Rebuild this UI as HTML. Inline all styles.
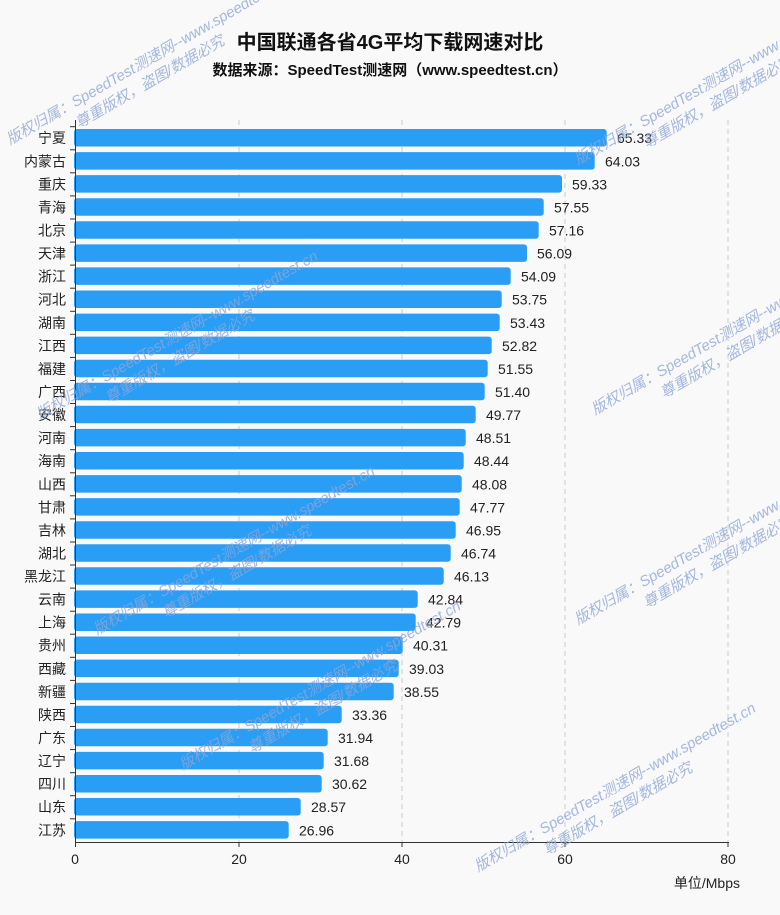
<!DOCTYPE html>
<html><head><meta charset="utf-8"><style>
body{margin:0;background:#f9f9f9;}
svg{display:block;font-family:"Liberation Sans","Noto Sans CJK SC",sans-serif;}
</style></head><body>
<svg width="780" height="915" viewBox="0 0 780 915" xmlns="http://www.w3.org/2000/svg">
<rect width="780" height="915" fill="#f9f9f9"/>
<text x="390" y="49" text-anchor="middle" font-size="20" font-weight="bold" fill="#111">中国联通各省4G平均下载网速对比</text>
<text x="390" y="75" text-anchor="middle" font-size="15" font-weight="bold" fill="#111">数据来源：SpeedTest测速网（www.speedtest.cn）</text>
<g stroke="#ccc" stroke-dasharray="5,4" stroke-width="1">
<line x1="239" y1="120" x2="239" y2="842"/><line x1="402" y1="120" x2="402" y2="842"/><line x1="565" y1="120" x2="565" y2="842"/><line x1="728" y1="120" x2="728" y2="842"/>
</g>
<g font-size="14" fill="#222">
<g transform="translate(0,126.7)"><rect x="74" y="2.3" width="532.7" height="17.5" rx="3" fill="#2a9df5"/><text x="617" y="16.5">65.33</text><text x="66" y="16.5" text-anchor="end">宁夏</text><line x1="70" x2="75" y1="0" y2="0" stroke="#333"/></g>
<g transform="translate(0,149.8)"><rect x="74" y="2.3" width="520.7" height="17.5" rx="3" fill="#2a9df5"/><text x="605" y="16.5">64.03</text><text x="66" y="16.5" text-anchor="end">内蒙古</text><line x1="70" x2="75" y1="0" y2="0" stroke="#333"/></g>
<g transform="translate(0,172.8)"><rect x="74" y="2.3" width="488" height="17.5" rx="3" fill="#2a9df5"/><text x="572" y="16.5">59.33</text><text x="66" y="16.5" text-anchor="end">重庆</text><line x1="70" x2="75" y1="0" y2="0" stroke="#333"/></g>
<g transform="translate(0,195.9)"><rect x="74" y="2.3" width="469.7" height="17.5" rx="3" fill="#2a9df5"/><text x="554" y="16.5">57.55</text><text x="66" y="16.5" text-anchor="end">青海</text><line x1="70" x2="75" y1="0" y2="0" stroke="#333"/></g>
<g transform="translate(0,219.0)"><rect x="74" y="2.3" width="464.7" height="17.5" rx="3" fill="#2a9df5"/><text x="549" y="16.5">57.16</text><text x="66" y="16.5" text-anchor="end">北京</text><line x1="70" x2="75" y1="0" y2="0" stroke="#333"/></g>
<g transform="translate(0,242.1)"><rect x="74" y="2.3" width="453" height="17.5" rx="3" fill="#2a9df5"/><text x="537" y="16.5">56.09</text><text x="66" y="16.5" text-anchor="end">天津</text><line x1="70" x2="75" y1="0" y2="0" stroke="#333"/></g>
<g transform="translate(0,265.1)"><rect x="74" y="2.3" width="436.7" height="17.5" rx="3" fill="#2a9df5"/><text x="521" y="16.5">54.09</text><text x="66" y="16.5" text-anchor="end">浙江</text><line x1="70" x2="75" y1="0" y2="0" stroke="#333"/></g>
<g transform="translate(0,288.2)"><rect x="74" y="2.3" width="427.7" height="17.5" rx="3" fill="#2a9df5"/><text x="512" y="16.5">53.75</text><text x="66" y="16.5" text-anchor="end">河北</text><line x1="70" x2="75" y1="0" y2="0" stroke="#333"/></g>
<g transform="translate(0,311.3)"><rect x="74" y="2.3" width="425.7" height="17.5" rx="3" fill="#2a9df5"/><text x="510" y="16.5">53.43</text><text x="66" y="16.5" text-anchor="end">湖南</text><line x1="70" x2="75" y1="0" y2="0" stroke="#333"/></g>
<g transform="translate(0,334.3)"><rect x="74" y="2.3" width="417.7" height="17.5" rx="3" fill="#2a9df5"/><text x="502" y="16.5">52.82</text><text x="66" y="16.5" text-anchor="end">江西</text><line x1="70" x2="75" y1="0" y2="0" stroke="#333"/></g>
<g transform="translate(0,357.4)"><rect x="74" y="2.3" width="413.7" height="17.5" rx="3" fill="#2a9df5"/><text x="498" y="16.5">51.55</text><text x="66" y="16.5" text-anchor="end">福建</text><line x1="70" x2="75" y1="0" y2="0" stroke="#333"/></g>
<g transform="translate(0,380.5)"><rect x="74" y="2.3" width="410.7" height="17.5" rx="3" fill="#2a9df5"/><text x="495" y="16.5">51.40</text><text x="66" y="16.5" text-anchor="end">广西</text><line x1="70" x2="75" y1="0" y2="0" stroke="#333"/></g>
<g transform="translate(0,403.5)"><rect x="74" y="2.3" width="401.7" height="17.5" rx="3" fill="#2a9df5"/><text x="486" y="16.5">49.77</text><text x="66" y="16.5" text-anchor="end">安徽</text><line x1="70" x2="75" y1="0" y2="0" stroke="#333"/></g>
<g transform="translate(0,426.6)"><rect x="74" y="2.3" width="391.7" height="17.5" rx="3" fill="#2a9df5"/><text x="476" y="16.5">48.51</text><text x="66" y="16.5" text-anchor="end">河南</text><line x1="70" x2="75" y1="0" y2="0" stroke="#333"/></g>
<g transform="translate(0,449.7)"><rect x="74" y="2.3" width="389.7" height="17.5" rx="3" fill="#2a9df5"/><text x="474" y="16.5">48.44</text><text x="66" y="16.5" text-anchor="end">海南</text><line x1="70" x2="75" y1="0" y2="0" stroke="#333"/></g>
<g transform="translate(0,472.8)"><rect x="74" y="2.3" width="387.7" height="17.5" rx="3" fill="#2a9df5"/><text x="472" y="16.5">48.08</text><text x="66" y="16.5" text-anchor="end">山西</text><line x1="70" x2="75" y1="0" y2="0" stroke="#333"/></g>
<g transform="translate(0,495.8)"><rect x="74" y="2.3" width="385.7" height="17.5" rx="3" fill="#2a9df5"/><text x="470" y="16.5">47.77</text><text x="66" y="16.5" text-anchor="end">甘肃</text><line x1="70" x2="75" y1="0" y2="0" stroke="#333"/></g>
<g transform="translate(0,518.9)"><rect x="74" y="2.3" width="381.7" height="17.5" rx="3" fill="#2a9df5"/><text x="466" y="16.5">46.95</text><text x="66" y="16.5" text-anchor="end">吉林</text><line x1="70" x2="75" y1="0" y2="0" stroke="#333"/></g>
<g transform="translate(0,542.0)"><rect x="74" y="2.3" width="376.7" height="17.5" rx="3" fill="#2a9df5"/><text x="461" y="16.5">46.74</text><text x="66" y="16.5" text-anchor="end">湖北</text><line x1="70" x2="75" y1="0" y2="0" stroke="#333"/></g>
<g transform="translate(0,565.0)"><rect x="74" y="2.3" width="369.7" height="17.5" rx="3" fill="#2a9df5"/><text x="454" y="16.5">46.13</text><text x="66" y="16.5" text-anchor="end">黑龙江</text><line x1="70" x2="75" y1="0" y2="0" stroke="#333"/></g>
<g transform="translate(0,588.1)"><rect x="74" y="2.3" width="343.7" height="17.5" rx="3" fill="#2a9df5"/><text x="428" y="16.5">42.84</text><text x="66" y="16.5" text-anchor="end">云南</text><line x1="70" x2="75" y1="0" y2="0" stroke="#333"/></g>
<g transform="translate(0,611.2)"><rect x="74" y="2.3" width="341.7" height="17.5" rx="3" fill="#2a9df5"/><text x="426" y="16.5">42.79</text><text x="66" y="16.5" text-anchor="end">上海</text><line x1="70" x2="75" y1="0" y2="0" stroke="#333"/></g>
<g transform="translate(0,634.2)"><rect x="74" y="2.3" width="328.7" height="17.5" rx="3" fill="#2a9df5"/><text x="413" y="16.5">40.31</text><text x="66" y="16.5" text-anchor="end">贵州</text><line x1="70" x2="75" y1="0" y2="0" stroke="#333"/></g>
<g transform="translate(0,657.3)"><rect x="74" y="2.3" width="324.7" height="17.5" rx="3" fill="#2a9df5"/><text x="409" y="16.5">39.03</text><text x="66" y="16.5" text-anchor="end">西藏</text><line x1="70" x2="75" y1="0" y2="0" stroke="#333"/></g>
<g transform="translate(0,680.4)"><rect x="74" y="2.3" width="319.7" height="17.5" rx="3" fill="#2a9df5"/><text x="404" y="16.5">38.55</text><text x="66" y="16.5" text-anchor="end">新疆</text><line x1="70" x2="75" y1="0" y2="0" stroke="#333"/></g>
<g transform="translate(0,703.5)"><rect x="74" y="2.3" width="267.7" height="17.5" rx="3" fill="#2a9df5"/><text x="352" y="16.5">33.36</text><text x="66" y="16.5" text-anchor="end">陕西</text><line x1="70" x2="75" y1="0" y2="0" stroke="#333"/></g>
<g transform="translate(0,726.5)"><rect x="74" y="2.3" width="253.7" height="17.5" rx="3" fill="#2a9df5"/><text x="338" y="16.5">31.94</text><text x="66" y="16.5" text-anchor="end">广东</text><line x1="70" x2="75" y1="0" y2="0" stroke="#333"/></g>
<g transform="translate(0,749.6)"><rect x="74" y="2.3" width="249.7" height="17.5" rx="3" fill="#2a9df5"/><text x="334" y="16.5">31.68</text><text x="66" y="16.5" text-anchor="end">辽宁</text><line x1="70" x2="75" y1="0" y2="0" stroke="#333"/></g>
<g transform="translate(0,772.7)"><rect x="74" y="2.3" width="247.7" height="17.5" rx="3" fill="#2a9df5"/><text x="332" y="16.5">30.62</text><text x="66" y="16.5" text-anchor="end">四川</text><line x1="70" x2="75" y1="0" y2="0" stroke="#333"/></g>
<g transform="translate(0,795.7)"><rect x="74" y="2.3" width="226.7" height="17.5" rx="3" fill="#2a9df5"/><text x="311" y="16.5">28.57</text><text x="66" y="16.5" text-anchor="end">山东</text><line x1="70" x2="75" y1="0" y2="0" stroke="#333"/></g>
<g transform="translate(0,818.8)"><rect x="74" y="2.3" width="214.7" height="17.5" rx="3" fill="#2a9df5"/><text x="299" y="16.5">26.96</text><text x="66" y="16.5" text-anchor="end">江苏</text><line x1="70" x2="75" y1="0" y2="0" stroke="#333"/></g>
</g>
<line x1="75.5" y1="120" x2="75.5" y2="842" stroke="#333"/>
<line x1="75" y1="842.5" x2="729" y2="842.5" stroke="#333"/>
<g stroke="#333"><line x1="75.5" y1="842" x2="75.5" y2="847"/><line x1="239" y1="842" x2="239" y2="847"/><line x1="402" y1="842" x2="402" y2="847"/><line x1="565" y1="842" x2="565" y2="847"/><line x1="728" y1="842" x2="728" y2="847"/></g>
<g font-size="14" fill="#222" text-anchor="middle"><text x="75" y="864">0</text><text x="239" y="864">20</text><text x="402" y="864">40</text><text x="565" y="864">60</text><text x="728" y="864">80</text></g>
<text x="740" y="888" text-anchor="end" font-size="14" fill="#222">单位/Mbps</text>
<g fill="#8ea6d6" fill-opacity="0.8" font-size="15" font-style="italic">
<g transform="translate(10,145) rotate(-30)"><text x="0" y="0">版权归属：SpeedTest测速网--www.speedtest.cn</text><text x="68" y="20">尊重版权，盗图/数据必究</text></g>
<g transform="translate(578,165) rotate(-30)"><text x="0" y="0">版权归属：SpeedTest测速网--www.speedtest.cn</text><text x="68" y="20">尊重版权，盗图/数据必究</text></g>
<g transform="translate(40,420) rotate(-30)"><text x="0" y="0">版权归属：SpeedTest测速网--www.speedtest.cn</text><text x="68" y="20">尊重版权，盗图/数据必究</text></g>
<g transform="translate(595,415) rotate(-30)"><text x="0" y="0">版权归属：SpeedTest测速网--www.speedtest.cn</text><text x="68" y="20">尊重版权，盗图/数据必究</text></g>
<g transform="translate(97,635) rotate(-30)"><text x="0" y="0">版权归属：SpeedTest测速网--www.speedtest.cn</text><text x="68" y="20">尊重版权，盗图/数据必究</text></g>
<g transform="translate(578,625) rotate(-30)"><text x="0" y="0">版权归属：SpeedTest测速网--www.speedtest.cn</text><text x="68" y="20">尊重版权，盗图/数据必究</text></g>
<g transform="translate(183,770) rotate(-30)"><text x="0" y="0">版权归属：SpeedTest测速网--www.speedtest.cn</text><text x="68" y="20">尊重版权，盗图/数据必究</text></g>
<g transform="translate(478,872) rotate(-30)"><text x="0" y="0">版权归属：SpeedTest测速网--www.speedtest.cn</text><text x="68" y="20">尊重版权，盗图/数据必究</text></g>
</g>
</svg>
</body></html>
